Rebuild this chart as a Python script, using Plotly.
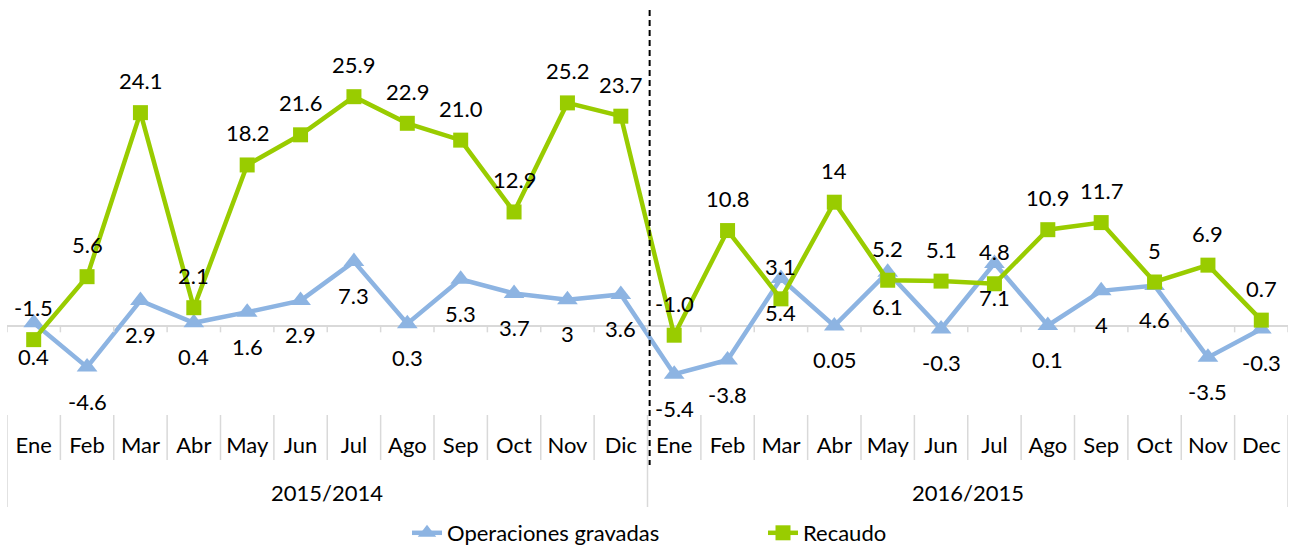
import plotly.graph_objects as go

# ---- data -------------------------------------------------------------
months = ["Ene", "Feb", "Mar", "Abr", "May", "Jun", "Jul", "Ago", "Sep", "Oct", "Nov", "Dic",
          "Ene", "Feb", "Mar", "Abr", "May", "Jun", "Jul", "Ago", "Sep", "Oct", "Nov", "Dec"]
periods = ["2015/2014", "2016/2015"]
months_per_period = 12

operaciones_labels = ["0.4", "-4.6", "2.9", "0.4", "1.6", "2.9", "7.3", "0.3", "5.3", "3.7", "3", "3.6",
                      "-5.4", "-3.8", "5.4", "0.05", "6.1", "-0.3", "7.1", "0.1", "4", "4.6", "-3.5", "-0.3"]
recaudo_labels = ["-1.5", "5.6", "24.1", "2.1", "18.2", "21.6", "25.9", "22.9", "21.0", "12.9", "25.2", "23.7",
                  "-1.0", "10.8", "3.1", "14", "5.2", "5.1", "4.8", "10.9", "11.7", "5", "6.9", "0.7"]

operaciones = [float(v) for v in operaciones_labels]
recaudo = [float(v) for v in recaudo_labels]

# ---- styling -------------------------------------------------------------
W, H = 1297, 548
TOP, BOTTOM = 16, 415          # plot area edges in px
FONT = "Lato"
FS = 22
BLUE = "#8DB4E2"
GREEN = "#99CC00"
GRID = "#D9D9D9"
Y_RANGE = [-10, 35]


def paper_y(px):
    """Convert a pixel row of the page into a paper y coordinate."""
    return (BOTTOM - px) / (BOTTOM - TOP)


x = list(range(len(months)))
text_font = dict(family=FONT, size=FS, color="#000")

fig = go.Figure()
fig.add_trace(go.Scatter(
    x=x, y=operaciones, name="Operaciones gravadas", mode="lines+markers",
    line=dict(color=BLUE, width=4.5),
    marker=dict(symbol="triangle-up", size=18, color=BLUE),
    legend="legend", showlegend=True, cliponaxis=False,
))
fig.add_trace(go.Scatter(
    x=x, y=recaudo, name="Recaudo", mode="lines+markers",
    line=dict(color=GREEN, width=4.5),
    marker=dict(symbol="square", size=15, color=GREEN),
    legend="legend2", showlegend=True, cliponaxis=False,
))

annotations = []
# value labels: Recaudo above its points, Operaciones below
for xi, v, t in zip(x, recaudo, recaudo_labels):
    annotations.append(dict(x=xi, y=v, xref="x", yref="y", text=t, showarrow=False,
                            yanchor="middle", yshift=32, font=text_font))
for xi, v, t in zip(x, operaciones, operaciones_labels):
    annotations.append(dict(x=xi, y=v, xref="x", yref="y", text=t, showarrow=False,
                            yanchor="middle", yshift=-34, font=text_font))
# period group labels
for i, p in enumerate(periods):
    center = i * months_per_period + (months_per_period - 1) / 2
    annotations.append(dict(x=center, y=paper_y(492), xref="x", yref="paper", text=p,
                            showarrow=False, xanchor="center", yanchor="middle",
                            font=text_font))

shapes = []
n = len(months)
# tick marks on the zero line at category boundaries
for k in range(n + 1):
    shapes.append(dict(type="line", xref="x", yref="y", x0=k - 0.5, x1=k - 0.5,
                       ysizemode="pixel", yanchor=0, y0=0, y1=-6,
                       line=dict(color=GRID, width=1.5)))
# category cell separators below the plot
for k in range(n + 1):
    outer = k % months_per_period == 0
    shapes.append(dict(type="line", xref="x", yref="paper", x0=k - 0.5, x1=k - 0.5,
                       y0=0, y1=paper_y(507 if outer else 460),
                       line=dict(color=GRID, width=1.5)))
# dashed divider between the two periods
split = months_per_period - 0.5 + 0.04
shapes.append(dict(type="line", xref="x", yref="paper", x0=split, x1=split,
                   y0=paper_y(10), y1=paper_y(465),
                   line=dict(color="#000", width=2, dash="6px,4px")))

legend_common = dict(orientation="h", xref="container", yref="container",
                     y=(H - 533) / H, yanchor="middle", xanchor="left",
                     font=text_font, bgcolor="rgba(0,0,0,0)")

fig.update_layout(
    width=W, height=H,
    margin=dict(l=7, r=9, t=TOP, b=H - BOTTOM, pad=0),
    paper_bgcolor="white", plot_bgcolor="white",
    font=text_font,
    showlegend=True,
    xaxis=dict(range=[-0.5, n - 0.5], tickmode="array", tickvals=x, ticktext=months,
               showgrid=False, zeroline=False, showline=False, ticks="",
               ticklabelstandoff=15, tickfont=text_font),
    yaxis=dict(range=Y_RANGE, showgrid=False, showticklabels=False, ticks="",
               zeroline=True, zerolinecolor=GRID, zerolinewidth=1.5, showline=False),
    legend=dict(x=407 / W, **legend_common),
    legend2=dict(x=763 / W, **legend_common),
    annotations=annotations,
    shapes=shapes,
)

fig.write_html("out.html")
